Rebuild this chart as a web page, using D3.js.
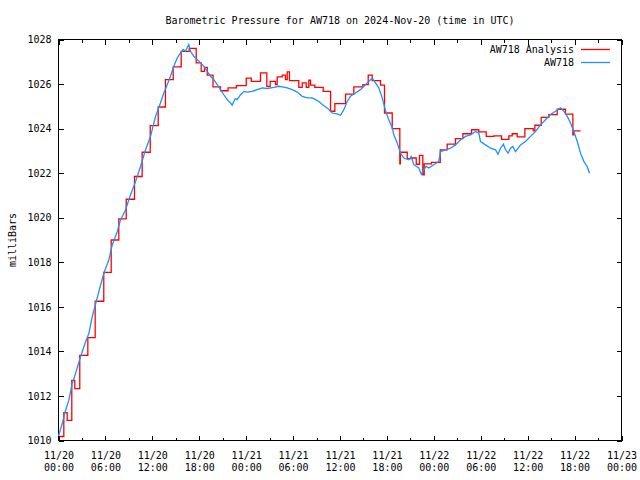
<!DOCTYPE html>
<html><head><meta charset="utf-8">
<script src="https://cdn.jsdelivr.net/npm/d3@7"></script>
<style>
body{margin:0;background:#fff}
svg text{font-family:"DejaVu Sans Mono","Liberation Mono",monospace;font-size:10px;fill:#000}
</style>
</head><body>
<svg id="chart" width="640" height="480"></svg>
<script>
// ---- data (hours after 2024-11-20 00:00 UTC, pressure in mb) ----
const analysisHours = [
  0.13,0.68,1.11,1.70,2.08,2.72,3.75,4.69,5.79,6.74,
  7.71,8.66,9.72,10.70,11.73,12.75,13.68,14.67,15.69,16.72,
  17.61,18.25,18.67,19.02,19.76,20.72,21.68,22.76,24.01,24.65,
  25.83,26.64,27.07,27.75,27.97,28.61,29.03,29.25,29.54,30.73,
  31.17,31.68,32.01,32.23,32.78,33.85,34.79,35.34,36.71,37.77,
  38.92,39.61,40.12,41.18,41.69,42.68,43.65,43.72,44.60,45.24,
  45.75,46.17,46.59,46.77,47.70,48.82,49.71,50.77,51.71,52.82,
  53.75,54.70,55.67,56.66,57.59,58.02,58.66,59.64,60.71,60.92,
  61.73,62.71,63.78,64.84,65.78,65.91,66.76];
const analysisValues = [
  1010.18,1011.25,1010.90,1012.70,1012.33,1013.82,1014.62,1016.25,1017.55,1019.00,
  1019.95,1020.83,1021.85,1022.94,1024.13,1024.97,1026.20,1026.77,1027.47,1027.60,
  1026.95,1026.57,1026.75,1026.40,1025.87,1025.70,1025.83,1025.93,1026.27,1026.12,
  1026.50,1025.90,1026.12,1025.97,1026.32,1026.40,1026.20,1026.55,1026.15,1025.85,
  1026.05,1025.85,1026.17,1025.95,1025.85,1025.67,1024.78,1025.12,1025.55,1025.87,
  1025.97,1026.40,1026.15,1025.95,1024.70,1024.00,1022.42,1022.94,1022.65,1022.68,
  1022.40,1022.80,1021.93,1022.42,1022.48,1023.05,1023.30,1023.55,1023.77,1023.95,
  1023.85,1023.65,1023.67,1023.52,1023.67,1023.77,1023.63,1024.00,1023.90,1024.15,
  1024.50,1024.63,1024.87,1024.65,1023.72,1023.90,1023.90];

const obsHours = [
  0.00,0.47,0.90,1.32,1.75,2.17,2.81,3.45,3.88,4.31,
  4.82,5.37,5.79,6.43,6.87,7.51,7.93,8.57,9.21,9.85,
  10.49,11.13,11.77,12.41,13.04,13.47,13.90,14.32,14.75,15.18,
  15.60,15.95,16.24,16.66,16.88,17.30,17.74,18.16,18.58,19.02,
  19.44,19.86,20.30,20.72,21.14,21.58,22.00,22.21,22.42,22.60,
  22.85,23.28,23.70,24.13,24.77,25.41,26.05,26.69,27.54,28.17,
  28.61,29.25,29.89,30.53,31.17,31.81,32.45,32.87,33.29,33.73,
  34.36,35.00,35.64,36.07,36.49,36.92,37.34,37.98,38.62,39.05,
  39.69,40.12,40.54,40.96,41.40,41.82,42.24,42.68,42.88,43.32,
  43.74,44.16,44.80,45.10,45.44,46.08,46.40,46.72,47.00,47.36,
  48.00,48.64,48.86,49.49,50.13,50.77,51.41,52.05,52.69,53.33,
  53.75,53.97,54.61,55.25,55.89,56.20,56.53,56.90,57.17,57.50,
  57.81,58.10,58.45,59.08,59.72,60.36,61.00,61.64,62.28,62.92,
  63.56,64.20,64.62,65.06,65.48,65.91,66.34,66.76,67.18,67.61,
  67.91];
const obsValues = [
  1010.20,1010.75,1011.35,1011.80,1012.55,1013.00,1013.75,1014.42,1014.80,1015.55,
  1016.22,1016.97,1017.50,1018.10,1018.78,1019.37,1019.90,1020.35,1021.03,1021.62,
  1022.30,1023.05,1023.65,1024.55,1025.15,1025.60,1025.97,1026.35,1026.80,1027.17,
  1027.40,1027.55,1027.47,1027.78,1027.47,1027.25,1027.10,1026.95,1026.80,1026.57,
  1026.35,1026.20,1025.97,1025.75,1025.52,1025.30,1025.15,1025.05,1025.22,1025.35,
  1025.30,1025.52,1025.67,1025.64,1025.67,1025.75,1025.83,1025.80,1025.85,1025.90,
  1025.87,1025.83,1025.75,1025.64,1025.45,1025.38,1025.38,1025.30,1025.22,1025.08,
  1024.93,1024.70,1024.66,1024.60,1024.85,1025.22,1025.45,1025.60,1025.75,1025.90,
  1026.12,1026.27,1026.05,1025.83,1025.38,1024.80,1024.40,1024.05,1023.72,1023.35,
  1022.90,1022.68,1022.60,1022.75,1022.38,1022.23,1021.95,1022.15,1022.30,1022.23,
  1022.38,1022.53,1022.97,1023.05,1023.12,1023.27,1023.50,1023.65,1023.72,1023.87,
  1023.80,1023.42,1023.27,1023.12,1023.05,1022.85,1023.12,1023.30,1023.05,1022.90,
  1023.12,1023.20,1022.97,1023.27,1023.42,1023.65,1023.87,1024.17,1024.40,1024.63,
  1024.78,1024.93,1024.78,1024.55,1024.25,1023.87,1023.42,1022.90,1022.53,1022.30,
  1022.00];

const xTickHours = [0,6,12,18,24,30,36,42,48,54,60,66,72];
const xTickLabels = [
  ["11/20","00:00"],["11/20","06:00"],["11/20","12:00"],["11/20","18:00"],
  ["11/21","00:00"],["11/21","06:00"],["11/21","12:00"],["11/21","18:00"],
  ["11/22","00:00"],["11/22","06:00"],["11/22","12:00"],["11/22","18:00"],
  ["11/23","00:00"]];
const xMinorHours = [3,9,15,21,27,33,39,45,51,57,63,69];
const yTicks = [1010,1012,1014,1016,1018,1020,1022,1024,1026,1028];
const seriesNames = ["AW718 Analysis","AW718"];
const seriesColors = ["#ff0000","#1e90ff"];
const titleText = "Barometric Pressure for AW718 on 2024-Nov-20 (time in UTC)";
const yLabelText = "milliBars";

// ---- drawing ----
const t0 = Date.UTC(2024,10,20,0,0,0);
const toDate = h => new Date(t0 + h*3600e3);
const svg = d3.select("#chart");
const L = 58.5, R = 621.5, T = 39.5, B = 440.5;

const x = d3.scaleUtc().domain([toDate(0), toDate(72)]).range([L, R]);
const y = d3.scaleLinear().domain([1010, 1028]).range([B, T]);

svg.append("rect").attr("width",640).attr("height",480).attr("fill","#fff");

svg.append("text").attr("x",(L+R)/2).attr("y",24).attr("text-anchor","middle").text(titleText);

svg.append("text").attr("transform","translate(15.5,240) rotate(-90)")
  .attr("text-anchor","middle").text(yLabelText);

function styleAxis(g){
  g.select(".domain").remove();
  g.attr("font-family",null).attr("font-size",null);
  g.selectAll(".tick line").attr("stroke","#000").attr("shape-rendering","crispEdges");
}

const gB = svg.append("g").attr("transform",`translate(0,${B})`)
  .call(d3.axisBottom(x).tickValues(xTickHours.map(toDate)).tickSizeInner(-5).tickSizeOuter(0).tickFormat(""));
styleAxis(gB);
gB.selectAll(".tick text").each(function(d,i){
  const t = d3.select(this).attr("y",null).attr("dy",null).text("");
  t.append("tspan").attr("x",0).attr("y",18).text(xTickLabels[i][0]);
  t.append("tspan").attr("x",0).attr("y",30.5).text(xTickLabels[i][1]);
});
const gBm = svg.append("g").attr("transform",`translate(0,${B})`)
  .call(d3.axisBottom(x).tickValues(xMinorHours.map(toDate)).tickSizeInner(-3).tickSizeOuter(0).tickFormat(""));
styleAxis(gBm);
const gT = svg.append("g").attr("transform",`translate(0,${T})`)
  .call(d3.axisTop(x).tickValues(xTickHours.map(toDate)).tickSizeInner(-5).tickSizeOuter(0).tickFormat(""));
styleAxis(gT);
const gTm = svg.append("g").attr("transform",`translate(0,${T})`)
  .call(d3.axisTop(x).tickValues(xMinorHours.map(toDate)).tickSizeInner(-3).tickSizeOuter(0).tickFormat(""));
styleAxis(gTm);
const gL = svg.append("g").attr("transform",`translate(${L},0)`)
  .call(d3.axisLeft(y).tickValues(yTicks).tickSizeInner(-5).tickSizeOuter(0).tickPadding(7).tickFormat(d3.format("d")));
styleAxis(gL);
const gR = svg.append("g").attr("transform",`translate(${R},0)`)
  .call(d3.axisRight(y).tickValues(yTicks).tickSizeInner(-5).tickSizeOuter(0).tickFormat(""));
styleAxis(gR);

svg.append("rect").attr("x",L).attr("y",T).attr("width",R-L).attr("height",B-T)
  .attr("fill","none").attr("stroke","#000").attr("shape-rendering","crispEdges");

const analysis = analysisHours.map((h,i)=>({t:toDate(h), v:analysisValues[i]}));
const obs = obsHours.map((h,i)=>({t:toDate(h), v:obsValues[i]}));

svg.append("path").datum(analysis)
  .attr("fill","none").attr("stroke",seriesColors[0]).attr("stroke-width",1.3)
  .attr("d", d3.line().x(d=>x(d.t)).y(d=>y(d.v)).curve(d3.curveStepAfter));
svg.append("path").datum(obs)
  .attr("fill","none").attr("stroke",seriesColors[1]).attr("stroke-width",1.3)
  .attr("d", d3.line().x(d=>x(d.t)).y(d=>y(d.v)));

const leg = svg.append("g");
seriesNames.forEach((n,i)=>{
  const ly = 49.5 + i*13;
  leg.append("text").attr("x",574).attr("y",ly+3.5).attr("text-anchor","end").text(n);
  leg.append("line").attr("x1",581).attr("x2",610).attr("y1",ly).attr("y2",ly)
    .attr("stroke",seriesColors[i]).attr("stroke-width",1.3);
});
</script>
</body></html>
